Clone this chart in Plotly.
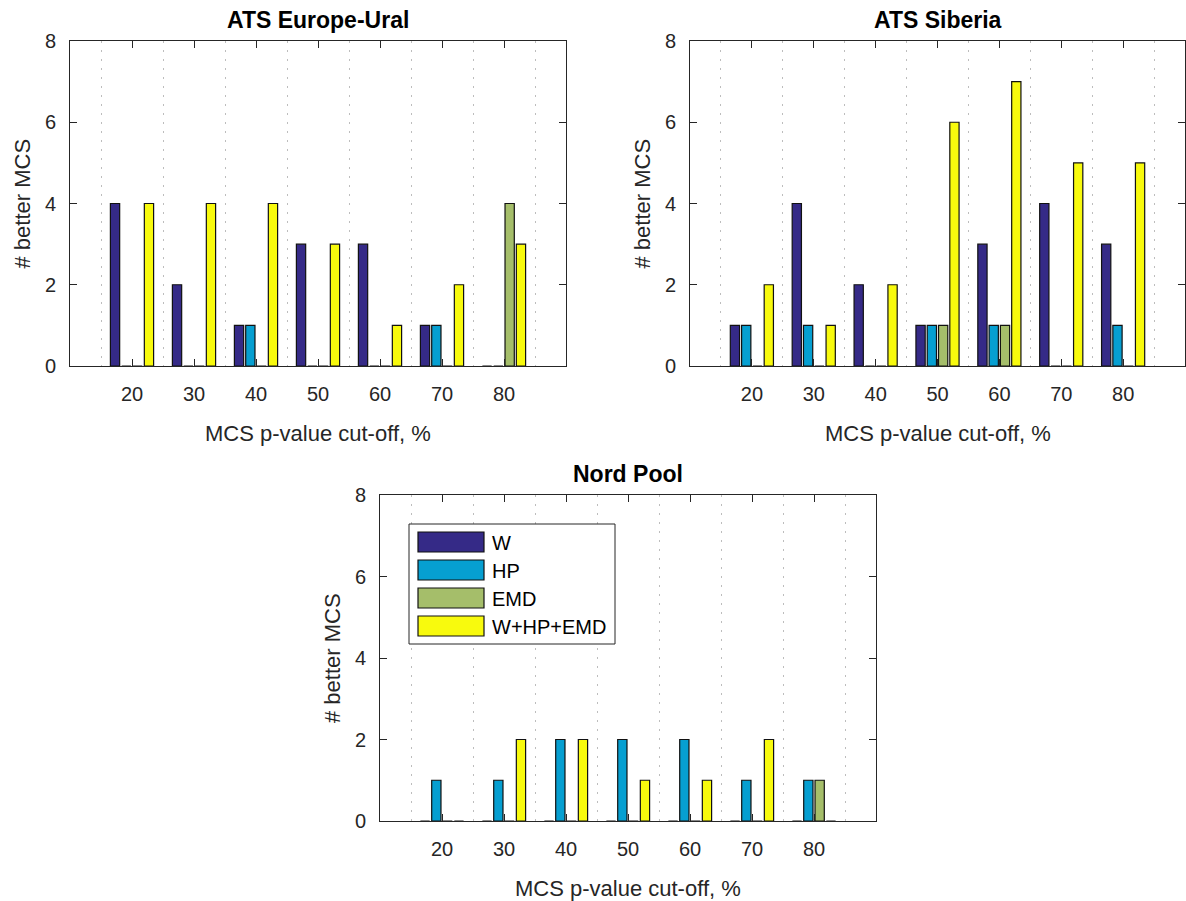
import plotly.graph_objects as go

cutoffs = [20, 30, 40, 50, 60, 70, 80]
series_names = ["W", "HP", "EMD", "W+HP+EMD"]
series_colors = ["#352a87", "#069fd1", "#a5be6a", "#f8fa0d"]

europe_W = [4, 2, 1, 3, 3, 1, 0]
europe_HP = [0, 0, 1, 0, 0, 1, 0]
europe_EMD = [0, 0, 0, 0, 0, 0, 4]
europe_ALL = [4, 4, 4, 3, 1, 2, 3]

siberia_W = [1, 4, 2, 1, 3, 4, 3]
siberia_HP = [1, 1, 0, 1, 1, 0, 1]
siberia_EMD = [0, 0, 0, 1, 1, 0, 0]
siberia_ALL = [2, 1, 2, 6, 7, 5, 5]

nord_W = [0, 0, 0, 0, 0, 0, 0]
nord_HP = [1, 1, 2, 2, 2, 1, 1]
nord_EMD = [0, 0, 0, 0, 0, 0, 1]
nord_ALL = [0, 2, 2, 1, 1, 2, 0]

grid_x = [15, 25, 35, 45, 55, 65, 75, 85]
y_ticks = [0, 2, 4, 6, 8]

panels = [
    ("ATS Europe-Ural", [europe_W, europe_HP, europe_EMD, europe_ALL], "x", "y"),
    ("ATS Siberia", [siberia_W, siberia_HP, siberia_EMD, siberia_ALL], "x2", "y2"),
    ("Nord Pool", [nord_W, nord_HP, nord_EMD, nord_ALL], "x3", "y3"),
]
x_title = "MCS p-value cut-off, %"
y_title = "# better MCS"

W, H = 1186, 901
FONT = "Liberation Sans, Arial, Helvetica, sans-serif"
TXT = "#262626"

fig = go.Figure()
for pi, (title, data, xa, ya) in enumerate(panels):
    for si, vals in enumerate(data):
        fig.add_trace(go.Bar(
            x=cutoffs, y=vals, name=series_names[si],
            marker=dict(color=series_colors[si], line=dict(color="#111111", width=1.2)),
            xaxis=xa, yaxis=ya, offsetgroup=str(si),
            showlegend=False,
        ))

def px_x(a, b):
    return [a / W, b / W]

def px_y(top, bottom):
    return [1 - bottom / H, 1 - top / H]

# pixel boxes: (left, right, top, bottom)
boxes = [(70, 566, 41, 366), (690, 1185, 41, 366), (380, 876, 495, 821)]

common_x = dict(
    range=[10, 90], tickmode="array", tickvals=cutoffs,
    ticks="inside", ticklen=7, tickcolor=TXT, tickwidth=1,
    showline=True, linecolor=TXT, linewidth=1, mirror="ticks",
    showgrid=False, zeroline=False, automargin=False,
    tickfont=dict(size=20, color=TXT, family=FONT),
    ticklabelstandoff=10,
    minor=dict(tickmode="array", tickvals=grid_x, showgrid=True, griddash="2px,7px",
               gridcolor="#bdbdbd", gridwidth=1, ticks=""),
    fixedrange=True,
)
common_y = dict(
    range=[0, 8], tickmode="array", tickvals=y_ticks,
    ticks="inside", ticklen=7, tickcolor=TXT, tickwidth=1,
    showline=True, linecolor=TXT, linewidth=1, mirror="ticks",
    showgrid=False, zeroline=False, automargin=False,
    tickfont=dict(size=20, color=TXT, family=FONT),
    ticklabelstandoff=9,
    fixedrange=True,
)

layout_axes = {}
names = [("xaxis", "yaxis", "y", "x"), ("xaxis2", "yaxis2", "y2", "x2"), ("xaxis3", "yaxis3", "y3", "x3")]
for (l, r, t, b), (xn, yn, yanc, xanc) in zip(boxes, names):
    layout_axes[xn] = dict(common_x, domain=px_x(l, r), anchor=yanc)
    layout_axes[yn] = dict(common_y, domain=px_y(t, b), anchor=xanc)

annotations = []
for (title, _, _, _), (l, r, t, b) in zip(panels, boxes):
    cx = (l + r) / 2
    cy = (t + b) / 2
    annotations.append(dict(
        text="<b>" + title + "</b>", x=cx / W, y=1 - (t - 21) / H,
        xref="paper", yref="paper", xanchor="center", yanchor="middle", showarrow=False,
        font=dict(size=23, color="#000000", family=FONT),
    ))
    annotations.append(dict(
        text=x_title, x=cx / W, y=1 - (b + 67) / H, xref="paper", yref="paper",
        xanchor="center", yanchor="middle", showarrow=False,
        font=dict(size=22, color=TXT, family=FONT),
    ))
    annotations.append(dict(
        text=y_title, x=(l - 48) / W, y=1 - cy / H, xref="paper", yref="paper",
        xanchor="center", yanchor="middle", showarrow=False, textangle=-90,
        font=dict(size=22, color=TXT, family=FONT),
    ))

# manual legend (MATLAB style) inside the bottom panel
shapes = []
lg_left, lg_top, lg_right, lg_bottom = 409, 524, 615, 644
shapes.append(dict(type="rect", xref="paper", yref="paper",
                   x0=lg_left / W, x1=lg_right / W, y0=1 - lg_bottom / H, y1=1 - lg_top / H,
                   line=dict(color=TXT, width=1), fillcolor="white", layer="above"))
for i, (nm, col) in enumerate(zip(series_names, series_colors)):
    top = 532 + 28 * i
    shapes.append(dict(type="rect", xref="paper", yref="paper",
                       x0=418 / W, x1=484 / W, y0=1 - (top + 20) / H, y1=1 - top / H,
                       line=dict(color="#111111", width=1.2), fillcolor=col, layer="above"))
    annotations.append(dict(
        text=nm, x=490 / W, y=1 - (top + 11) / H, xref="paper", yref="paper",
        xanchor="left", yanchor="middle", showarrow=False,
        font=dict(size=20, color="#000000", family=FONT),
    ))

fig.update_layout(
    width=W, height=H, autosize=False,
    margin=dict(l=0, r=0, t=0, b=0),
    paper_bgcolor="white", plot_bgcolor="white",
    barmode="group", bargap=0.27, bargroupgap=0.18,
    font=dict(family=FONT, color=TXT, size=18),
    annotations=annotations, shapes=shapes, showlegend=False,
    **layout_axes,
)

fig.write_html(
    "out.html",
    config={"displayModeBar": False, "staticPlot": True},
    post_script="document.body.style.margin='0';document.body.style.overflow='hidden';",
)
